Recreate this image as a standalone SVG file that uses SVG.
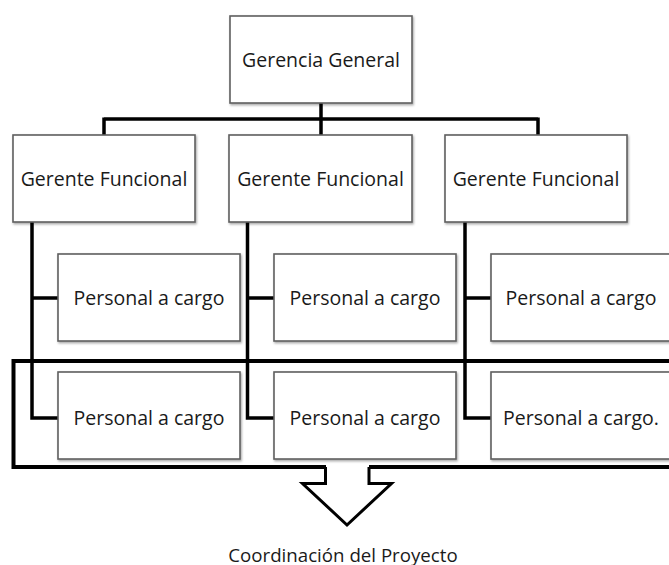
<svg xmlns="http://www.w3.org/2000/svg" width="669" height="565" viewBox="0 0 669 565">
  <defs>
    <filter id="shadow" x="-5%" y="-5%" width="115%" height="120%">
      <feDropShadow dx="1" dy="1.5" stdDeviation="1" flood-color="#000" flood-opacity="0.35"/>
    </filter>
  </defs>
  <style>
    .box { fill: #ffffff; stroke: #5f5f5f; stroke-width: 1.6; filter: url(#shadow); }
    .lbl { font-family: "Open Sans", "Liberation Sans", sans-serif; font-size: 19.5px; fill: #1a1a1a; text-anchor: middle; dominant-baseline: central; }
    .cap { font-size: 18.7px; }
    .wire { fill: none; stroke: #000; stroke-width: 3.5; stroke-linejoin: miter; }
    .frame { fill: none; stroke: #000; stroke-width: 4; stroke-linejoin: miter; }
    .arrow { fill: #fff; stroke: #000; stroke-width: 3; stroke-linejoin: miter; }
  </style>

  <rect width="669" height="565" fill="#ffffff"/>

  <!-- connectors -->
  <g id="connectors">
    <path class="wire" d="M321 103 V119 M104 119 H538 M104 117.5 V135 M321 119 V135 M538 117.5 V135"/>
    <path class="wire" d="M32 222 V418 H58 M32 298 H58"/>
    <path class="wire" d="M247.5 222 V418 H274 M247.5 298 H274"/>
    <path class="wire" d="M465 222 V418 H491 M465 298 H491"/>
  </g>

  <g id="gerencia-general">
    <rect class="box" x="230" y="16" width="182" height="87"/>
    <text class="lbl" x="321" y="59">Gerencia General</text>
  </g>

  <g id="gerente-1">
    <rect class="box" x="13" y="135" width="182" height="87"/>
    <text class="lbl" x="104" y="178">Gerente Funcional</text>
  </g>
  <g id="gerente-2">
    <rect class="box" x="229" y="135" width="183" height="87"/>
    <text class="lbl" x="320.5" y="178">Gerente Funcional</text>
  </g>
  <g id="gerente-3">
    <rect class="box" x="445" y="135" width="182" height="87"/>
    <text class="lbl" x="536" y="178">Gerente Funcional</text>
  </g>

  <g id="personal-1a">
    <rect class="box" x="58" y="254" width="182" height="87"/>
    <text class="lbl" x="149" y="297">Personal a cargo</text>
  </g>
  <g id="personal-2a">
    <rect class="box" x="274" y="254" width="182" height="87"/>
    <text class="lbl" x="365" y="297">Personal a cargo</text>
  </g>
  <g id="personal-3a">
    <rect class="box" x="491" y="254" width="182" height="87"/>
    <text class="lbl" x="581" y="297">Personal a cargo</text>
  </g>

  <g id="personal-1b">
    <rect class="box" x="58" y="372" width="182" height="87"/>
    <text class="lbl" x="149" y="417">Personal a cargo</text>
  </g>
  <g id="personal-2b">
    <rect class="box" x="274" y="372" width="182" height="87"/>
    <text class="lbl" x="365" y="417">Personal a cargo</text>
  </g>
  <g id="personal-3b">
    <rect class="box" x="491" y="372" width="182" height="87"/>
    <text class="lbl" x="581" y="417">Personal a cargo.</text>
  </g>

  <!-- project coordination frame with outlet arrow -->
  <g id="coordinacion">
    <path class="frame" d="M326 467 H13.5 V361 H672 M672 467 H369"/>
    <path class="arrow" d="M325.5 467 V483.5 H302.5 L347 525 L391.5 483.5 H369 V467"/>
    <text class="lbl cap" x="343" y="554">Coordinación del Proyecto</text>
  </g>
</svg>
